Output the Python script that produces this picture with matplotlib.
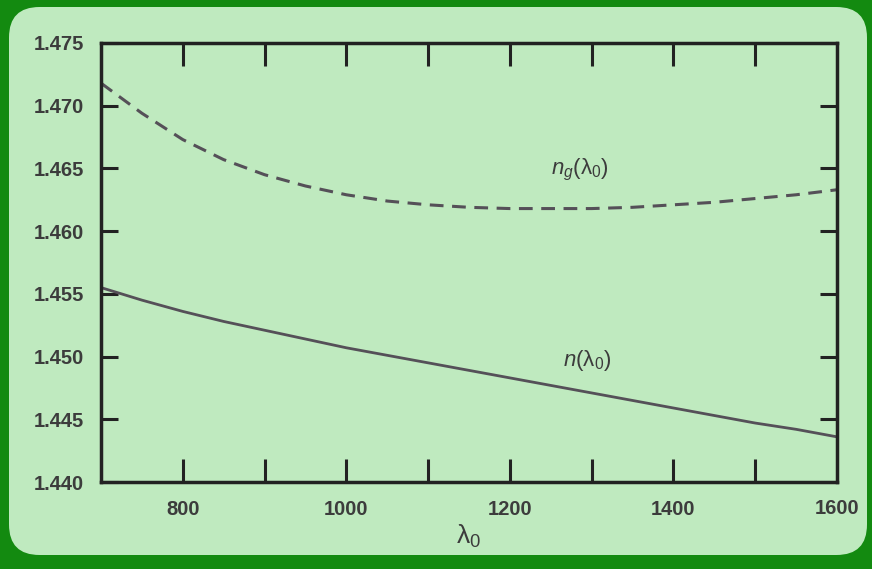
import numpy as np
import matplotlib
matplotlib.use('Agg')
import matplotlib.pyplot as plt
from matplotlib.patches import FancyBboxPatch

# wavelength (nm)
wavelength = [700, 750, 800, 850, 900, 950, 1000, 1050, 1100, 1150, 1200,
              1250, 1300, 1350, 1400, 1450, 1500, 1550, 1600]
# refractive index n(lambda0)
n_index = [1.4555, 1.4545, 1.4536, 1.4528, 1.4521, 1.4514, 1.4507, 1.4501,
           1.4495, 1.4489, 1.4483, 1.4477, 1.4471, 1.4465, 1.4459, 1.4453,
           1.4447, 1.4442, 1.4436]
# group index ng(lambda0)
ng_index = [1.4718, 1.4694, 1.4673, 1.4657, 1.4645, 1.4636, 1.4629, 1.4624,
            1.4621, 1.4619, 1.4618, 1.4618, 1.4618, 1.4619, 1.4621, 1.4623,
            1.4626, 1.4629, 1.4633]

xticks = [800, 900, 1000, 1100, 1200, 1300, 1400, 1500]
xticklabels = ['800', '', '1000', '', '1200', '', '1400', '']
yticks = [1.440, 1.445, 1.450, 1.455, 1.460, 1.465, 1.470, 1.475]

dark_green = '#138a10'
light_green = '#bfeabf'
ink = '#3c3c3c'
line_col = '#555058'

plt.rcParams['font.family'] = ['Liberation Sans', 'DejaVu Sans']
plt.rcParams['mathtext.fontset'] = 'custom'
plt.rcParams['mathtext.it'] = 'Liberation Sans:italic'
plt.rcParams['mathtext.rm'] = 'Liberation Sans'

fig = plt.figure(figsize=(8.72, 5.69), dpi=100, facecolor=dark_green)
# rounded light panel
W, H = 872.0, 569.0
panel = FancyBboxPatch((9 / W, 1 - 555 / H), (867 - 9) / W, (555 - 7) / H,
                       boxstyle='round,pad=0,rounding_size=0.035',
                       transform=fig.transFigure, facecolor=light_green,
                       edgecolor='none', mutation_aspect=W / H, zorder=-5)
fig.patches.append(panel)

ax = fig.add_axes([101 / W, 1 - 482 / H, (837 - 101) / W, (482 - 43) / H])
ax.set_facecolor('none')
ax.set_zorder(2)

ax.plot(wavelength, ng_index, color=line_col, lw=2.2, dashes=(4.5, 2.8))
ax.plot(wavelength, n_index, color=line_col, lw=2.0)

ax.set_xlim(700, 1600)
ax.set_ylim(1.440, 1.475)
ax.set_xticks(xticks)
ax.set_xticklabels(xticklabels)
ax.set_yticks(yticks)
ax.set_yticklabels(['%.3f' % v for v in yticks])

# 1600 label sits on the right spine
ax.text(1600, -0.061, '1600', transform=ax.get_xaxis_transform(), ha='center',
        va='center', fontsize=14.5, fontweight='bold', color=ink)

ax.tick_params(axis='x', direction='in', length=16.5, width=2.2, color='#222222',
               top=True, bottom=True, pad=13, labelsize=14.5, labelcolor=ink)
ax.tick_params(axis='y', direction='in', length=12.5, width=2.2, color='#222222',
               left=True, right=True, pad=12, labelsize=14.5, labelcolor=ink)
for lab in ax.get_xticklabels() + ax.get_yticklabels():
    lab.set_fontweight('bold')
for s in ax.spines.values():
    s.set_linewidth(2.5)
    s.set_color('#222222')

ax.set_xlabel('λ$_0$', fontsize=19, color=ink, labelpad=3)

ax.text(1285, 1.4649, '$n_g$(λ$_0$)', fontsize=16, color=ink,
        ha='center', va='center')
ax.text(1295, 1.4497, '$n$(λ$_0$)', fontsize=16, color=ink,
        ha='center', va='center')

fig.savefig('out.png', dpi=100, facecolor=dark_green)
